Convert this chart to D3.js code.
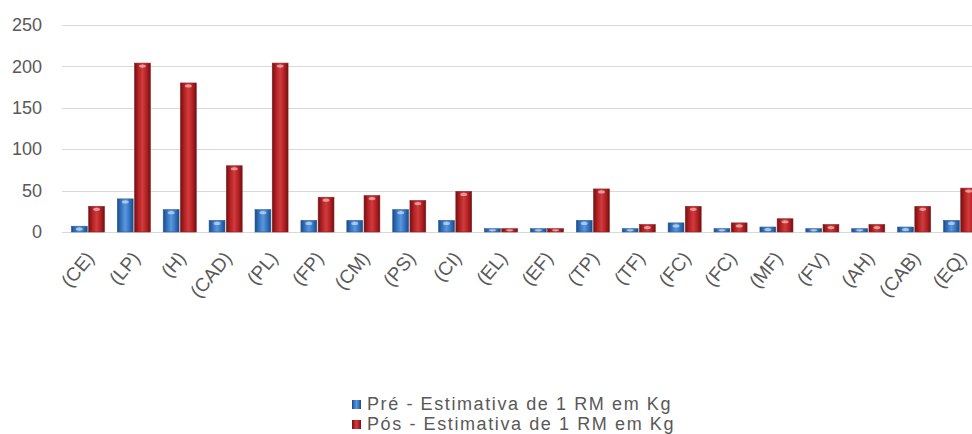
<!DOCTYPE html>
<html>
<head>
<meta charset="utf-8">
<script src="https://cdn.jsdelivr.net/npm/d3@7"></script>
<style>
  html, body { margin: 0; padding: 0; background: #fff; }
  svg { display: block; }
  text { font-family: "Liberation Sans", Arial, sans-serif; fill: #595959; }
</style>
</head>
<body>
<svg id="chart" width="972" height="434"></svg>
<script>
// Exercise codes on the horizontal axis
const categories = ["(CE)", "(LP)", "(H)", "(CAD)", "(PL)", "(FP)", "(CM)", "(PS)", "(CI)", "(EL)",
                    "(EF)", "(TP)", "(TF)", "(FC)", "(FC)", "(MF)", "(FV)", "(AH)", "(CAB)", "(EQ)"];
// Estimated 1RM (kg) before and after training
const preValues  = [7, 40, 27, 14, 27, 14, 14, 27, 14, 4, 4, 14, 4, 11, 4, 6, 4, 4, 6, 14];
const posValues  = [31, 204, 180, 80, 204, 42, 44, 38, 49, 4, 4, 52, 9, 31, 11, 16, 9, 9, 31, 53];
const seriesNames = ["Pré - Estimativa de 1 RM em Kg", "Pós - Estimativa de 1 RM em Kg"];
const yTicks = [0, 50, 100, 150, 200, 250];

const svg = d3.select("#chart");
const defs = svg.append("defs");

// Horizontal shading that gives each bar a rounded, cylinder-like look
const palettes = [
  { id: "gradPre", stops: ["#1b4a85", "#3574c2", "#5a97dc", "#3574c2", "#1b4a85"] },
  { id: "gradPos", stops: ["#72100f", "#b22226", "#d23b3b", "#b22226", "#72100f"] }
];
palettes.forEach(p => {
  const g = defs.append("linearGradient").attr("id", p.id)
    .attr("x1", "0%").attr("x2", "100%").attr("y1", "0%").attr("y2", "0%");
  p.stops.forEach((c, i) => g.append("stop")
    .attr("offset", (i / (p.stops.length - 1) * 100) + "%").attr("stop-color", c));
});
const flat = ["#3a78c0", "#c0282d"];

const y = d3.scaleLinear().domain([0, 250]).range([232, 25]);
const x0 = d3.scaleBand().domain(d3.range(categories.length)).range([65, 983])
  .paddingInner(0.28).paddingOuter(0.14);
const x1 = d3.scaleBand().domain([0, 1]).range([0, x0.bandwidth()]).paddingInner(0.08);

// Horizontal gridlines
svg.append("g").selectAll("line").data(yTicks).join("line")
  .attr("x1", 62).attr("x2", 983)
  .attr("y1", d => Math.round(y(d)) + 0.5).attr("y2", d => Math.round(y(d)) + 0.5)
  .attr("stroke", "#d9d9d9").attr("stroke-width", 1);

// Y axis labels
const yAxis = d3.axisLeft(y).tickValues(yTicks).tickSize(0).tickPadding(0);
const gy = svg.append("g").attr("transform", "translate(42,0)").call(yAxis);
gy.select(".domain").remove();
gy.selectAll("text").style("font-size", "18px").attr("fill", "#595959")
  .style("font-family", "'Liberation Sans', Arial, sans-serif");

// Bars
const rows = categories.map((c, i) => ({ i, vals: [preValues[i], posValues[i]] }));
const groups = svg.append("g").selectAll("g").data(rows).join("g")
  .attr("transform", d => `translate(${x0(d.i)},0)`);

const bars = groups.selectAll("g.bar").data(d => d.vals.map((v, k) => ({ v, k })))
  .join("g").attr("class", "bar");
bars.append("rect")
  .attr("x", d => x1(d.k)).attr("width", x1.bandwidth())
  .attr("y", d => y(d.v)).attr("height", d => y(0) - y(d.v))
  .attr("fill", d => `url(#${palettes[d.k].id})`)
  .attr("stroke", d => d3.color(flat[d.k]).darker(0.8)).attr("stroke-width", 0.6);
// Small highlight near the top of each bar
bars.append("ellipse")
  .attr("cx", d => x1(d.k) + x1.bandwidth() / 2)
  .attr("cy", d => y(d.v) + Math.min(3, (y(0) - y(d.v)) / 2))
  .attr("rx", x1.bandwidth() * 0.22).attr("ry", d => Math.min(1.6, (y(0) - y(d.v)) / 3))
  .attr("fill", "#fff").attr("opacity", 0.5);

// Category labels, rotated
const xAxis = d3.axisBottom(x0).tickFormat(i => categories[i]).tickSize(0).tickPadding(0);
const gx = svg.append("g").attr("transform", "translate(0,250)").call(xAxis);
gx.select(".domain").remove();
gx.selectAll("text")
  .style("font-size", "19px").style("font-family", "'Liberation Sans', Arial, sans-serif")
  .attr("fill", "#595959")
  .attr("text-anchor", "end")
  .attr("dy", "0.7em")
  .attr("transform", "translate(-3,0) rotate(-50)");

// Legend
const legend = svg.append("g");
seriesNames.forEach((name, k) => {
  const yy = 404 + k * 20;
  legend.append("rect").attr("x", 352).attr("y", yy - 4).attr("width", 9).attr("height", 9)
    .attr("fill", `url(#${palettes[k].id})`);
  legend.append("text").attr("x", 367).attr("y", yy).attr("dy", "0.35em")
    .style("font-size", "18px").style("letter-spacing", "1.6px")
    .text(name);
});
</script>
</body>
</html>
